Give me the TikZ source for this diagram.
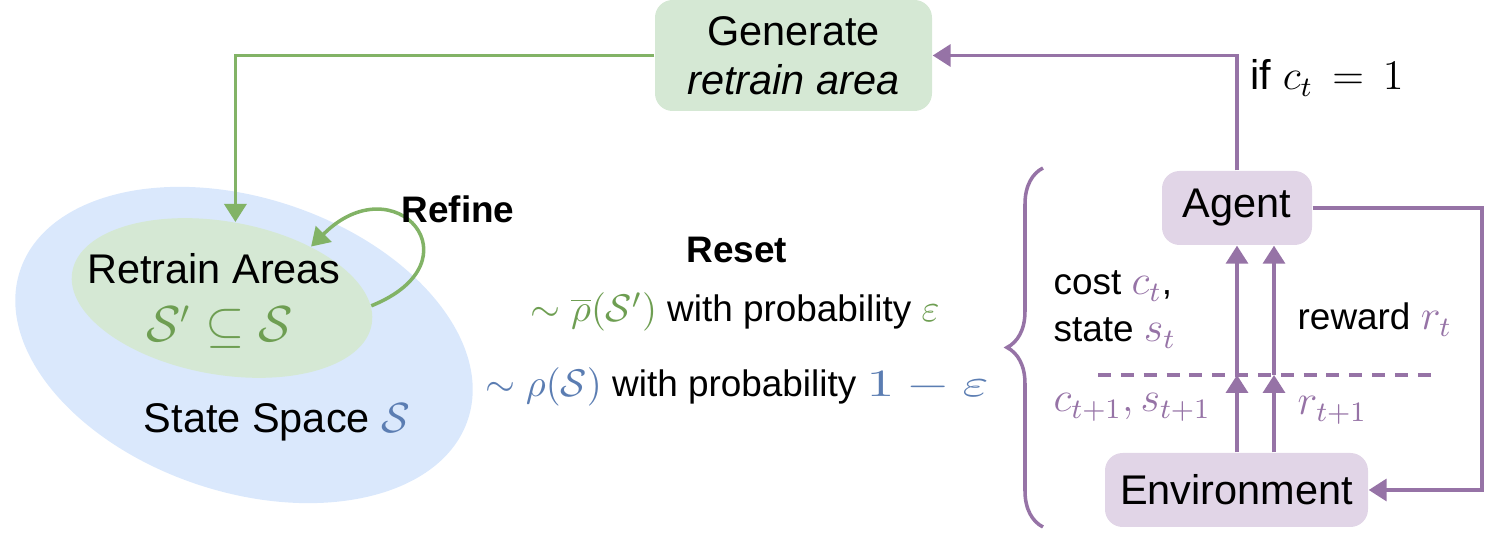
\documentclass[tikz,border=0pt]{standalone}
\usepackage[no-math]{fontspec}
\usepackage{graphicx}
\setmainfont{Liberation Sans}
\usetikzlibrary{arrows.meta,shapes.geometric,decorations.pathreplacing}

\definecolor{bluefill}{HTML}{DAE8FC}
\definecolor{bluetext}{HTML}{5B7DB2}
\definecolor{greenfill}{HTML}{D5E8D4}
\definecolor{greenline}{HTML}{82B366}
\definecolor{greentext}{HTML}{6E9E52}
\definecolor{purplefill}{HTML}{E1D5E7}
\definecolor{purpleline}{HTML}{9673A6}

\newcommand{\pmath}[1]{\textcolor{purpleline}{\fontsize{12}{14}\selectfont$#1$}}

\begin{document}
\begin{tikzpicture}[
    x=1cm, y=1cm,
    >={Triangle[length=0.18cm,width=0.22cm]},
    every node/.style={font=\fontsize{11.8}{14}\selectfont},
    box/.style={
        rounded corners=5pt,
        inner sep=0pt,
        align=center
    },
    region/.style={ellipse, inner sep=0pt},
    lbl/.style={font=\fontsize{10.5}{12.5}\selectfont, inner sep=0pt},
    bold/.style={font=\fontsize{10.5}{12}\selectfont\bfseries},
    garr/.style={->, line width=1pt, draw=greenline},
    parr/.style={->, line width=1pt, draw=purpleline}
]

    \useasboundingbox (0,0) rectangle (15,5.4);

    % State space and retrain areas
    \node[region, fill=bluefill, minimum width=4.72cm, minimum height=2.94cm, rotate=-18.4] (space) at (2.44,1.95) {};
    \node[region, fill=greenfill, minimum width=3.04cm, minimum height=1.53cm, rotate=-10] (retrain) at (2.22,2.42) {};

    \node[anchor=base, inner sep=0pt] (retraintxt) at (2.14,2.56) {Retrain Areas};
    \node[anchor=base, inner sep=0pt, font=\fontsize{13.5}{16}\selectfont, text=greentext] (subset) at (2.20,1.98) {$\mathcal{S}'\subseteq\mathcal{S}$};
    \node[anchor=base] (spacetxt) at (2.77,1.07) {State Space \textcolor{bluetext}{\fontsize{13}{15}\selectfont$\mathcal{S}$}};

    % Refine loop
    \draw[garr] (retrain.7) to[out=22, in=45, looseness=3.6] (retrain.40);
    \node[bold] (refine) at (4.58,3.31) {Refine};

    % Generate box
    \node[
        box,
        fill=greenfill,
        minimum width=2.77cm,
        minimum height=1.11cm
    ] (gen) at (7.935,4.845) {Generate\\ \textit{retrain area}};

    \draw[garr] (gen.west) -| (retrain.north);

    % Reset
    \node[bold] (reset) at (7.37,2.90) {Reset};
    \node[anchor=base, lbl] (resetA) at (7.35,2.18)
        {\textcolor{greentext}{\fontsize{11}{13}\selectfont$\sim\overline{\rho}(\mathcal{S}')$} with probability \textcolor{greentext}{\fontsize{11}{13}\selectfont$\varepsilon$}};
    \node[anchor=base, lbl] (resetB) at (7.37,1.43)
        {\textcolor{bluetext}{\fontsize{11}{13}\selectfont$\sim\rho(\mathcal{S})$} with probability \textcolor{bluetext}{\fontsize{11}{13}\selectfont\scalebox{1.45}[1]{$1-\varepsilon$}}};

    % Brace
    \coordinate (bracetop) at (10.43,3.72);
    \coordinate (bracebot) at (10.43,0.13);
    \draw[purpleline, line width=1pt, decorate, decoration={brace, amplitude=0.36cm}] (bracebot) -- (bracetop);

    % Agent and environment
    \node[box, fill=purplefill, minimum width=1.50cm, minimum height=0.74cm] (agent) at (12.37,3.32) {Agent};
    \node[box, fill=purplefill, minimum width=2.63cm, minimum height=0.74cm] (env) at (12.365,0.50) {Environment};

    \draw[parr] (agent.north) |- (gen.east);
    \node[anchor=base west, inner sep=0pt] (cond) at (12.50,4.50) {if \fontsize{12}{14}\selectfont$c_t\,=\,1$};

    \coordinate (loop) at (14.82,3.32);
    \draw[parr] (agent.east) -- (loop) |- (env.east);

    % Time step line
    \coordinate (dl) at (10.98,1.65);
    \coordinate (dr) at (14.37,1.65);
    \draw[purpleline, line width=1pt, dash pattern=on 3.7pt off 2.8pt] (dl) -- (dr);

    \coordinate (m1) at (12.37,1.65);
    \coordinate (m2) at (12.74,1.65);
    \draw[parr] (env.north -| m1) -- (m1);
    \draw[parr] (m1) -- (agent.south -| m1);
    \draw[parr] (env.north -| m2) -- (m2);
    \draw[parr] (m2) -- (agent.south -| m2);

    % Labels
    \node[anchor=base west, lbl] (cost) at (10.53,2.45) {cost \pmath{c_t},};
    \node[anchor=base west, lbl] (state) at (10.53,1.98) {state \pmath{s_t}};
    \node[anchor=base west, lbl] (next) at (10.53,1.28) {\pmath{c_{t+1},s_{t+1}}};
    \node[anchor=base west, lbl] (reward) at (12.97,2.10) {reward \pmath{r_t}};
    \node[anchor=base west, lbl] (rnext) at (12.97,1.25) {\pmath{r_{t+1}}};

\end{tikzpicture}
\end{document}
